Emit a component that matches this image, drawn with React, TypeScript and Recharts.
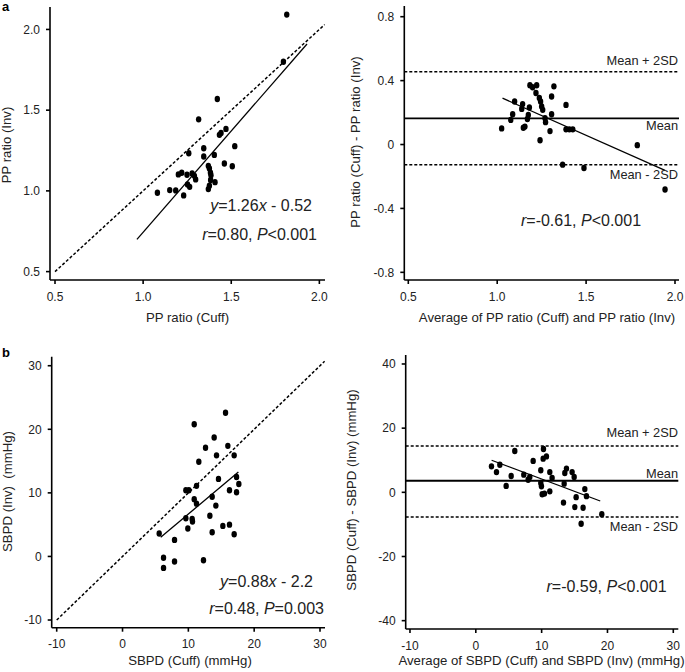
import { ScatterChart, Scatter, XAxis, YAxis, ReferenceLine } from 'recharts'

const FONT = '"Liberation Sans", Arial, Helvetica, sans-serif'
const INK = '#222'

// a (left): PP ratio, cuff vs invasive
const ppCuff = [1.815, 1.796, 1.421, 1.315, 1.47, 1.442, 1.433, 1.52, 1.344, 1.259, 1.404, 1.344, 1.461, 1.506, 1.37, 1.376, 1.382, 1.385, 1.219, 1.2, 1.278, 1.249, 1.291, 1.298, 1.383, 1.408, 1.252, 1.264, 1.376, 1.37, 1.151, 1.185, 1.081, 1.23]
const ppInv = [2.092, 1.8, 1.569, 1.443, 1.384, 1.359, 1.347, 1.277, 1.264, 1.233, 1.223, 1.213, 1.17, 1.153, 1.155, 1.139, 1.112, 1.097, 1.112, 1.102, 1.108, 1.1, 1.093, 1.071, 1.067, 1.054, 1.04, 1.025, 1.032, 1.011, 1.005, 1.003, 0.988, 0.972]
const ppFitX = [0.965, 1.93]
const ppFitY = [0.70, 1.91]

// a (right): Bland-Altman for PP ratio
const ppAvg = [1.184, 1.199, 1.222, 1.319, 1.218, 1.306, 1.237, 1.244, 1.098, 1.143, 1.25, 1.256, 1.138, 1.181, 1.387, 1.087, 1.306, 1.175, 1.076, 1.269, 1.272, 1.025, 1.147, 1.156, 1.387, 1.406, 1.425, 1.297, 1.241, 1.788, 1.368, 1.488, 1.944, 1.17]
const ppDiff = [0.371, 0.358, 0.371, 0.364, 0.322, 0.301, 0.291, 0.269, 0.269, 0.253, 0.238, 0.217, 0.223, 0.232, 0.248, 0.189, 0.189, 0.185, 0.154, 0.164, 0.14, 0.101, 0.105, 0.112, 0.095, 0.095, 0.095, 0.084, 0.027, -0.004, -0.126, -0.147, -0.282, 0.16]
const ppBaFitX = [1.03, 1.944]
const ppBaFitY = [0.29, -0.162]
const ppLimits = [0.455, 0.164, -0.126] // mean + 2SD, mean, mean - 2SD

// b (left): SBPD, cuff vs invasive
const sbCuff = [15.65, 10.89, 13.92, 12.61, 16.0, 16.96, 14.28, 11.59, 17.32, 14.58, 17.67, 11.24, 9.62, 10.08, 16.25, 17.32, 10.89, 13.62, 11.24, 14.18, 9.62, 13.27, 10.58, 10.63, 9.92, 15.24, 16.25, 13.62, 16.96, 5.57, 7.9, 6.23, 12.3, 7.9, 6.23]
const sbInv = [22.6, 20.8, 18.7, 17.1, 17.4, 15.9, 15.9, 14.9, 12.5, 12.2, 11.4, 11.1, 10.4, 10.4, 10.4, 10.1, 9.0, 9.4, 8.3, 8.0, 6.0, 6.4, 5.9, 5.5, 4.4, 4.8, 5.0, 3.8, 3.5, 3.6, 2.6, -0.2, -0.6, -0.8, -1.8]
const sbFitX = [5.8, 17.6]
const sbFitY = [3.0, 13.3]

// b (right): Bland-Altman for SBPD
const sbAvg = [2.38, 3.14, 3.65, 4.61, 5.37, 5.92, 7.29, 7.95, 8.2, 8.71, 9.87, 9.87, 9.97, 10.08, 10.43, 10.23, 10.28, 10.73, 11.24, 11.24, 11.59, 13.32, 13.42, 13.52, 13.77, 14.63, 14.94, 15.04, 15.24, 16.0, 16.3, 16.56, 16.81, 19.14]
const sbDiff = [8.1, 6.3, 8.6, 2.0, 5.1, 12.9, 5.5, 3.9, 4.8, 9.8, 6.9, 2.9, 1.9, -0.6, -0.4, 10.5, 13.5, 11.2, 6.3, 0.3, 4.5, -3.2, 2.7, 6.0, 7.4, 6.3, 4.8, -4.6, -1.5, -9.8, -4.8, 1.0, -1.2, -6.8]
const sbBaFitX = [2.4, 18.9]
const sbBaFitY = [10.0, -2.7]
const sbLimits = [14.4, 3.6, -7.7]

const zip = (xs: number[], ys: number[]) => xs.map((x, i) => ({ x, y: ys[i] }))
const fixed1 = (v: number) => v.toFixed(1)

const Dot = (p: any) => <ellipse cx={p.cx} cy={p.cy} rx={2.7} ry={3.2} fill="#000" />

type Seg = { x1: number; y1: number; x2: number; y2: number; dashed?: boolean }

function Panel(props: {
  box: { left: number; top: number; width: number; height: number }
  plot: { x0: number; x1: number; y0: number; y1: number }
  xDomain: [number, number]
  yDomain: [number, number]
  xTicks: number[]
  yTicks: number[]
  xFmt?: (v: number) => string
  yFmt?: (v: number) => string
  points: { x: number; y: number }[]
  segments: Seg[]
  hlines?: number[]
}) {
  const { box, plot } = props
  const tick = { fill: INK, fontSize: 12, fontFamily: FONT }
  const line = { stroke: '#000', strokeWidth: 1.6 }
  return (
    <div style={{ position: 'absolute', left: box.left, top: box.top }}>
      <ScatterChart
        width={box.width}
        height={box.height}
        margin={{ top: plot.y0 - box.top, right: box.left + box.width - plot.x1, bottom: 0, left: 0 }}
      >
        <XAxis
          type="number" dataKey="x" domain={props.xDomain} ticks={props.xTicks} allowDataOverflow interval={0}
          height={box.top + box.height - plot.y1} tickFormatter={props.xFmt} tick={tick}
          tickSize={4} tickMargin={8} axisLine={line} tickLine={line}
        />
        <YAxis
          type="number" dataKey="y" domain={props.yDomain} ticks={props.yTicks} allowDataOverflow interval={0}
          width={plot.x0 - box.left} tickFormatter={props.yFmt} tick={tick}
          tickSize={4} tickMargin={6} axisLine={line} tickLine={line}
        />
        {(props.hlines ?? []).map((v, i) => (
          <ReferenceLine key={'h' + i} y={v} stroke="#000" strokeWidth={i === 1 ? 1.8 : 1.5} strokeDasharray={i === 1 ? undefined : '3 2'} />
        ))}
        {props.segments.map((s, i) => (
          <ReferenceLine
            key={'s' + i}
            segment={[{ x: s.x1, y: s.y1 }, { x: s.x2, y: s.y2 }]}
            stroke="#000" strokeWidth={s.dashed ? 1.5 : 1.3} strokeDasharray={s.dashed ? '3 2' : undefined}
          />
        ))}
        <Scatter data={props.points} shape={Dot} isAnimationActive={false} />
      </ScatterChart>
    </div>
  )
}

const It = ({ children }: { children: string }) => <tspan fontStyle="italic">{children}</tspan>

export default function App() {
  const t = { fontFamily: FONT, fill: INK }
  return (
    <div style={{ position: 'absolute', left: 0, top: 0, width: 685, height: 672, background: '#fff' }}>
      <Panel
        box={{ left: 0, top: 0, width: 340, height: 335 }}
        plot={{ x0: 50, x1: 325, y0: 7, y1: 280 }}
        xDomain={[0.4716, 2.032]} yDomain={[0.448, 2.139]}
        xTicks={[0.5, 1, 1.5, 2]} yTicks={[0.5, 1, 1.5, 2]} xFmt={fixed1} yFmt={fixed1}
        points={zip(ppCuff, ppInv)}
        segments={[
          { x1: 0.5, y1: 0.5, x2: 2.03, y2: 2.03, dashed: true },
          { x1: ppFitX[0], y1: ppFitY[0], x2: ppFitX[1], y2: ppFitY[1] },
        ]}
      />
      <Panel
        box={{ left: 342, top: 0, width: 343, height: 335 }}
        plot={{ x0: 404.3, x1: 679, y0: 6, y1: 280 }}
        xDomain={[0.4775, 2.0225]} yDomain={[-0.848, 0.867]}
        xTicks={[0.5, 1, 1.5, 2]} yTicks={[-0.8, -0.4, 0, 0.4, 0.8]} xFmt={fixed1}
        points={zip(ppAvg, ppDiff)}
        hlines={ppLimits}
        segments={[{ x1: ppBaFitX[0], y1: ppBaFitY[0], x2: ppBaFitX[1], y2: ppBaFitY[1] }]}
      />
      <Panel
        box={{ left: 0, top: 340, width: 340, height: 332 }}
        plot={{ x0: 51.7, x1: 325, y0: 356.7, y1: 627.7 }}
        xDomain={[-10.76, 30.76]} yDomain={[-11.21, 31.42]}
        xTicks={[-10, 0, 10, 20, 30]} yTicks={[-10, 0, 10, 20, 30]}
        points={zip(sbCuff, sbInv)}
        segments={[
          { x1: -10, y1: -10, x2: 30.7, y2: 30.7, dashed: true },
          { x1: sbFitX[0], y1: sbFitY[0], x2: sbFitX[1], y2: sbFitY[1] },
        ]}
      />
      <Panel
        box={{ left: 342, top: 340, width: 343, height: 332 }}
        plot={{ x0: 405.7, x1: 678.3, y0: 355, y1: 629 }}
        xDomain={[-10.65, 30.76]} yDomain={[-42.6, 42.8]}
        xTicks={[-10, 0, 10, 20, 30]} yTicks={[-40, -20, 0, 20, 40]}
        points={zip(sbAvg, sbDiff)}
        hlines={sbLimits}
        segments={[{ x1: sbBaFitX[0], y1: sbBaFitY[0], x2: sbBaFitX[1], y2: sbBaFitY[1] }]}
      />

      <svg width={685} height={672} style={{ position: 'absolute', left: 0, top: 0, pointerEvents: 'none' }}>
        <text {...t} x={2} y={11} fontSize={13} fontWeight="bold" fill="#000">a</text>
        <text {...t} x={2} y={357} fontSize={13} fontWeight="bold" fill="#000">b</text>

        {/* a left */}
        <text {...t} x={11} y={145} fontSize={13.2} textAnchor="middle" transform="rotate(-90 11 145)">PP ratio (Inv)</text>
        <text {...t} x={187.5} y={322} fontSize={13.2} textAnchor="middle">PP ratio (Cuff)</text>
        <text {...t} x={312} y={211} fontSize={16} textAnchor="end"><It>y</It>=1.26<It>x</It> - 0.52</text>
        <text {...t} x={317} y={239.5} fontSize={16} textAnchor="end"><It>r</It>=0.80, <It>P</It>&lt;0.001</text>

        {/* a right */}
        <text {...t} x={360} y={142} fontSize={13.2} textAnchor="middle" transform="rotate(-90 360 142)">PP ratio (Cuff) - PP ratio (Inv)</text>
        <text {...t} x={547} y={322} fontSize={13.2} textAnchor="middle">Average of PP ratio (Cuff) and PP ratio (Inv)</text>
        <text {...t} x={678} y={65} fontSize={12.8} textAnchor="end">Mean + 2SD</text>
        <text {...t} x={678} y={129.5} fontSize={12.8} textAnchor="end">Mean</text>
        <text {...t} x={678} y={179.3} fontSize={12.8} textAnchor="end">Mean - 2SD</text>
        <text {...t} x={581} y={226} fontSize={16} textAnchor="middle"><It>r</It>=-0.61, <It>P</It>&lt;0.001</text>

        {/* b left */}
        <text {...t} x={11.5} y={491.5} fontSize={13.2} textAnchor="middle" transform="rotate(-90 11.5 491.5)" style={{ whiteSpace: 'pre' }}>SBPD (Inv)  (mmHg)</text>
        <text {...t} x={190} y={665} fontSize={13.2} textAnchor="middle">SBPD (Cuff) (mmHg)</text>
        <text {...t} x={313} y={587.3} fontSize={16} textAnchor="end"><It>y</It>=0.88<It>x</It> - 2.2</text>
        <text {...t} x={324} y={614} fontSize={16} textAnchor="end"><It>r</It>=0.48, <It>P</It>=0.003</text>

        {/* b right */}
        <text {...t} x={356} y={490} fontSize={13.2} textAnchor="middle" transform="rotate(-90 356 490)">SBPD (Cuff) - SBPD (Inv) (mmHg)</text>
        <text {...t} x={541.5} y={665} fontSize={13.2} textAnchor="middle">Average of SBPD (Cuff) and SBPD (Inv) (mmHg)</text>
        <text {...t} x={678} y={436.7} fontSize={12.8} textAnchor="end">Mean + 2SD</text>
        <text {...t} x={678} y={477.7} fontSize={12.8} textAnchor="end">Mean</text>
        <text {...t} x={678} y={531} fontSize={12.8} textAnchor="end">Mean - 2SD</text>
        <text {...t} x={606.5} y={592.3} fontSize={16} textAnchor="middle"><It>r</It>=-0.59, <It>P</It>&lt;0.001</text>
      </svg>
    </div>
  )
}
